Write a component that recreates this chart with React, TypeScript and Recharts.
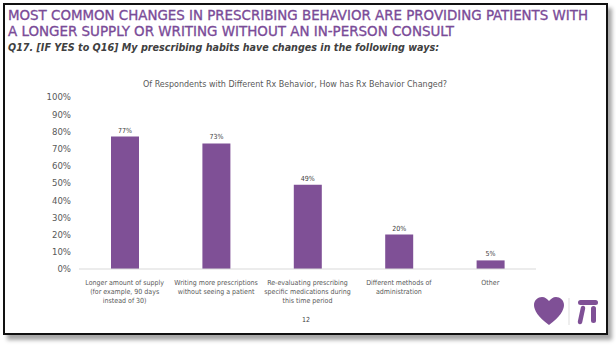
import React from "react";
import { BarChart, Bar, XAxis, YAxis, LabelList } from "recharts";

const categories = [
  ["Longer amount of supply", "(for example, 90 days", "instead of 30)"],
  ["Writing more prescriptions", "without seeing a patient"],
  ["Re-evaluating prescribing", "specific medications during", "this time period"],
  ["Different methods of", "administration"],
  ["Other"],
];
const values = [77, 73, 49, 20, 5];
const yTicks = [0, 10, 20, 30, 40, 50, 60, 70, 80, 90, 100];

const data = categories.map((c, i) => ({ name: c.join("\n"), value: values[i] }));

const FONT = "'DejaVu Sans Condensed', 'DejaVu Sans', sans-serif";
const PURPLE = "#7F5096";
const GRAY = "#595959";

function CategoryTick({ x, y, payload }: any) {
  const lines = String(payload.value).split("\n");
  return (
    <text x={x} y={y} textAnchor="middle" fill={GRAY} fontSize={7} fontFamily={FONT} style={{ fontStretch: "condensed" }}>
      {lines.map((l, i) => (
        <tspan key={i} x={x} dy={i === 0 ? 8 : 8.8}>{l}</tspan>
      ))}
    </text>
  );
}

export default function App() {
  return (
    <div style={{ position: "fixed", left: 0, top: 0, width: 616, height: 346, background: "#fff", overflow: "hidden" }}>
      {/* slide frame with shadow */}
      <div
        style={{
          position: "absolute", left: 3, top: 3, width: 601, height: 328,
          border: "2px solid #111", background: "#fff",
          boxShadow: "4px 5px 4px rgba(0,0,0,0.35)",
        }}
      />
      <svg style={{ position: "absolute", left: 0, top: 0 }} width={616} height={100} fontFamily={FONT}>
        <text x={8} y={19.5} fontSize={13.8} fill="#7A4B98" stroke="#7A4B98" strokeWidth={0.3} textLength={580} lengthAdjust="spacingAndGlyphs">
          MOST COMMON CHANGES IN PRESCRIBING BEHAVIOR ARE PROVIDING PATIENTS WITH
        </text>
        <text x={8} y={35.5} fontSize={13.8} fill="#7A4B98" stroke="#7A4B98" strokeWidth={0.3} textLength={446} lengthAdjust="spacingAndGlyphs">
          A LONGER SUPPLY OR WRITING WITHOUT AN IN-PERSON CONSULT
        </text>
        <text x={8} y={51} fontSize={10.5} fill="#404040" fontWeight="bold" fontStyle="italic" textLength={431} lengthAdjust="spacingAndGlyphs">
          Q17. [IF YES to Q16] My prescribing habits have changes in the following ways:
        </text>
        <text x={143} y={87} fontSize={9.5} fill={GRAY} textLength={304} lengthAdjust="spacingAndGlyphs">
          Of Respondents with Different Rx Behavior, How has Rx Behavior Changed?
        </text>
      </svg>

      <div style={{ position: "absolute", left: 0, top: 0 }}>
        <BarChart width={616} height={346} data={data} margin={{ top: 97, right: 80, bottom: 47, left: 0 }}>
          <YAxis
            domain={[0, 100]}
            ticks={yTicks}
            interval={0}
            width={79}
            axisLine={false}
            tickLine={false}
            tickFormatter={(v) => `${v}%`}
            tick={{ fill: GRAY, fontSize: 9.5, fontFamily: FONT, style: { fontStretch: "condensed" } }}
          />
          <XAxis
            dataKey="name"
            height={30}
            axisLine={{ stroke: "#D9D9D9" }}
            tickLine={false}
            interval={0}
            tick={<CategoryTick />}
          />
          <Bar dataKey="value" fill={PURPLE} barSize={28} isAnimationActive={false}>
            <LabelList
              dataKey="value"
              position="top"
              offset={4}
              formatter={(v: any) => `${v}%`}
              style={{ fill: "#404040", fontSize: 7, fontFamily: FONT }}
            />
          </Bar>
        </BarChart>
      </div>

      <div
        style={{
          position: "absolute", left: 302, top: 316, fontFamily: FONT, fontSize: 7, color: "#404040",
        }}
      >
        12
      </div>

      {/* logos */}
      <svg style={{ position: "absolute", left: 530, top: 295 }} width={75} height={34}>
        <path d="M19 30 C8 22 4 15 4 10 C4 5 8 2 12 2 C15 2 17 4 19 6 C21 4 23 2 26 2 C30 2 34 5 34 10 C34 15 30 22 19 30 Z" fill={PURPLE} />
        <line x1={39} y1={3} x2={39} y2={30} stroke="#ddd" strokeWidth={1} />
        <rect x={48} y={5} width={20} height={5} rx={2.5} fill={PURPLE} />
        <line x1={53} y1={13} x2={50} y2={27} stroke={PURPLE} strokeWidth={4.5} strokeLinecap="round" />
        <rect x={61} y={11} width={5} height={17} rx={2.5} fill={PURPLE} />
      </svg>
    </div>
  );
}
